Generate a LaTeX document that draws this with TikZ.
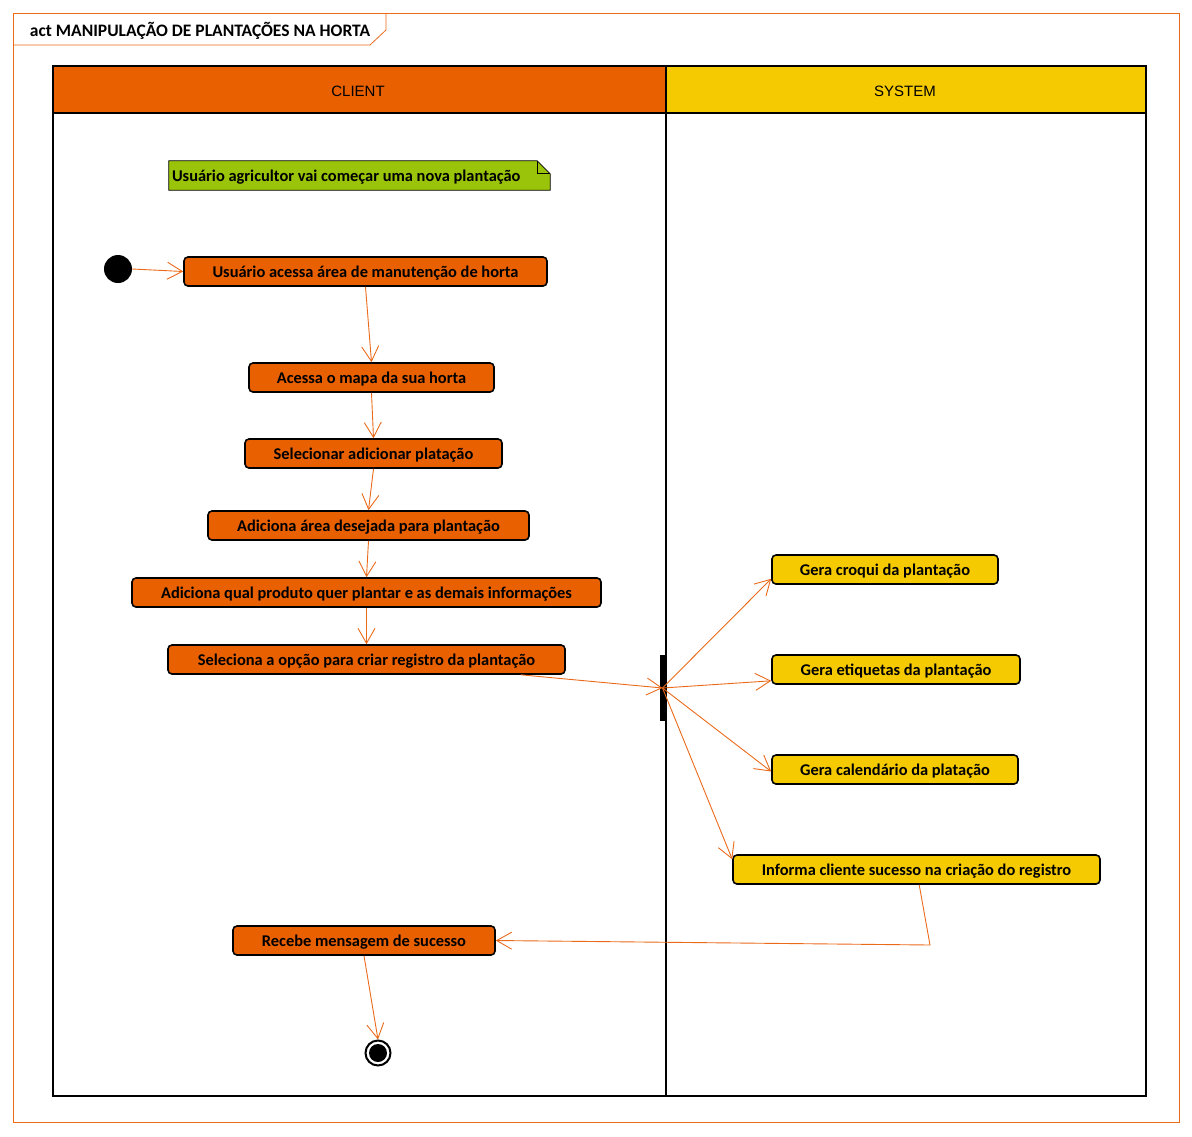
\documentclass[tikz,border=0pt]{standalone}
\usepackage{fontspec}
\setmainfont{Carlito}
\newfontfamily\lanefont{Liberation Sans}
\usetikzlibrary{arrows.meta}

\definecolor{clientorange}{HTML}{E86000}
\definecolor{systemyellow}{HTML}{F5CA00}
\definecolor{notegreen}{HTML}{99C40A}
\definecolor{floworange}{HTML}{EA6A1A}

\tikzset{
    clientact/.style={draw, line width=1.6pt, rounded corners=4pt, fill=clientorange,
        minimum height=29pt, inner sep=0pt, text height=13pt, text depth=1pt,
        font=\fontsize{16.4}{18}\selectfont\bfseries},
    systemact/.style={clientact, fill=systemyellow},
    flow/.style={draw=floworange, line width=0.9pt, -{Straight Barb[length=15pt,width=17pt]}},
}

\begin{document}
\begin{tikzpicture}[x=1pt, y=-1pt]
    \useasboundingbox (0,0) rectangle (1192,1136);
    % frame and title
    \draw [floworange, line width=0.8pt] (13,13) rectangle (1179,1122);
    \draw [floworange, line width=0.8pt] (13,45) -- (370,45) -- (386,30) -- (386,13);
    \path (200,31) node [font=\fontsize{17.5}{19}\selectfont\bfseries] (title) {act MANIPULAÇÃO DE PLANTAÇÕES NA HORTA};

    % swimlanes
    \fill [clientorange] (53,66) rectangle (666,113);
    \fill [systemyellow] (666,66) rectangle (1146,113);
    \draw [line width=2pt] (53,66) rectangle (1146,1096);
    \draw [line width=2pt] (53,113) -- (1146,113);
    \draw [line width=2pt] (666,66) -- (666,1096);
    \path (358,91) node [font=\lanefont\fontsize{15}{17}\selectfont] (client) {CLIENT};
    \path (905,91) node [font=\lanefont\fontsize{15}{17}\selectfont] (system) {SYSTEM};

    % note
    \path (359.5,175.5) node [minimum width=381pt, minimum height=29pt, inner sep=0pt] (note) {};
    \draw [fill=notegreen, line width=0.8pt] (note.south west) -- (note.north west)
        -- ([xshift=-13pt]note.north east) -- ([yshift=-13pt]note.north east)
        -- (note.south east) -- cycle;
    \draw [line width=0.8pt] ([xshift=-13pt]note.north east) -- ([xshift=-13pt, yshift=-13pt]note.north east)
        -- ([yshift=-13pt]note.north east);
    \path (note.west) node [anchor=west, inner xsep=3pt, text height=13pt, text depth=1pt,
        font=\fontsize{16.4}{18}\selectfont\bfseries] (notetext) {Usuário agricultor vai começar uma nova plantação};

    % client actions
    \path (118,269) node [circle, fill=black, minimum size=28pt, inner sep=0pt] (start) {};
    \path (365.5,271.5) node [clientact, minimum width=363pt] (client1) {Usuário acessa área de manutenção de horta};
    \path (371.5,377.5) node [clientact, minimum width=245pt] (client2) {Acessa o mapa da sua horta};
    \path (373.5,453.5) node [clientact, minimum width=257pt] (client3) {Selecionar adicionar platação};
    \path (368.5,525.5) node [clientact, minimum width=321pt] (client4) {Adiciona área desejada para plantação};
    \path (366.5,592.5) node [clientact, minimum width=469pt] (client5) {Adiciona qual produto quer plantar e as demais informações};
    \path (366.5,659.5) node [clientact, minimum width=397pt] (client6) {Seleciona a opção para criar registro da plantação};
    \path (364,940.5) node [clientact, minimum width=262pt] (client7) {Recebe mensagem de sucesso};
    \path (378,1053) node [circle, draw, line width=2pt, minimum size=25pt, inner sep=0pt,
        path picture={\fill (path picture bounding box.center) circle (9pt);}] (final) {};

    % fork
    \path (662.5,688) node [fill=black, minimum width=6pt, minimum height=66pt, inner sep=0pt] (fork) {};

    % system actions
    \path (885,569.5) node [systemact, minimum width=226pt] (system1) {Gera croqui da plantação};
    \path (896,669.5) node [systemact, minimum width=248pt] (system2) {Gera etiquetas da plantação};
    \path (895,769.5) node [systemact, minimum width=246pt] (system3) {Gera calendário da platação};
    \path (916.5,869.5) node [systemact, minimum width=367pt] (system4) {Informa cliente sucesso na criação do registro};
    \coordinate (back) at (930,945);

    % flows
    \draw [flow] (start.east) -- (client1.west);
    \draw [flow] (client1.south) -- (client2.north);
    \draw [flow] (client2.south) -- (client3.north);
    \draw [flow] (client3.south) -- (client4.north);
    \draw [flow] (client4.south) -- (client5.north);
    \draw [flow] (client5.south) -- (client6.north);
    \draw [flow] ([xshift=-45pt]client6.south east) -- (fork.center);
    \draw [flow] (fork.center) -- ([yshift=6pt]system1.south west);
    \draw [flow] (fork.center) -- ([yshift=4pt]system2.south west);
    \draw [flow] (fork.center) -- ([yshift=-2pt]system3.west);
    \draw [flow] (fork.center) -- ([yshift=-5pt]system4.north west);
    \draw [flow] ([xshift=187pt]system4.south west) -- (back) -- (client7.east);
    \draw [flow] (client7.south) -- (final.north);
\end{tikzpicture}
\end{document}
